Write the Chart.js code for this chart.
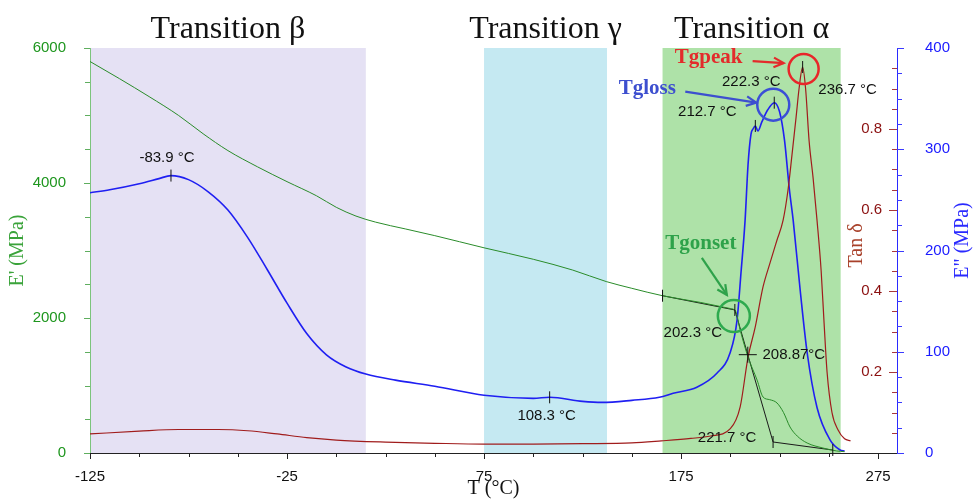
<!DOCTYPE html>
<html>
<head>
<meta charset="utf-8">
<script src="https://cdn.jsdelivr.net/npm/chart.js@4.4.1/dist/chart.umd.min.js"></script>
<style>
  html, body { margin: 0; padding: 0; background: #fff; }
</style>
</head>
<body>
<canvas id="dmaChart" width="973" height="501"></canvas>
<script>
// axis ticks
const xTicks = [-125, -25, 75, 175, 275];
const eTicks = [0, 2000, 4000, 6000];
const tanTicks = [0.2, 0.4, 0.6, 0.8];
const lossTicks = [0, 100, 200, 300, 400];

// temperature ranges of the three transitions (°C)
const bandRanges = [[-125, 15], [75, 137.4], [165.6, 256]];
const bandNames = ['Transition β', 'Transition γ', 'Transition α'];

// E' storage modulus (MPa)
const storageT = [-125, -110, -95, -80, -67.6, -55, -40, -25, -10, 0, 10, 20, 35, 50, 75, 100, 120, 137, 150, 165.6, 185,
  195, 200, 202.7, 205, 209, 213.6, 216.6, 220, 223.7, 227, 230.3, 234, 239, 247, 254, 258];
const storageE = [5800, 5545, 5280, 5000, 4730, 4480, 4240, 4020, 3810, 3640, 3510, 3420, 3320, 3220, 3040, 2870, 2710, 2540, 2440, 2330, 2230,
  2170, 2140, 2100, 1822, 1420, 1080, 830, 790, 741, 600, 385, 250, 148, 74, 30, 20];

// tan delta
const tanT = [-125, -100, -80, -60, -45, -30, -15, 0, 25, 50, 75, 100, 125, 150, 165, 180, 190, 200, 205, 209,
  212.6, 216.6, 220.2, 223.7, 226.8, 229.3, 231.3, 233.4, 234.9, 236.7, 238.2, 240, 242, 244, 246.1, 247.6, 249.1, 251.6, 254.7, 258, 261];
const tanDelta = [0.047, 0.054, 0.058, 0.058, 0.055, 0.047, 0.038, 0.032, 0.027, 0.024, 0.022, 0.022, 0.023, 0.025, 0.03, 0.036, 0.042, 0.06, 0.114, 0.237,
  0.31, 0.41, 0.47, 0.526, 0.575, 0.65, 0.736, 0.83, 0.9, 0.953, 0.9, 0.77, 0.68, 0.575, 0.45, 0.32, 0.2, 0.1, 0.057, 0.035, 0.03];

// E'' loss modulus (MPa)
const lossT = [-125, -115, -100, -90, -83.9, -75, -65, -55, -45, -35, -25, -15, -5, 5, 15, 30, 50, 75, 100, 108.3,
  125, 135, 150, 164, 171, 183, 193.3, 199.9, 203.4, 205.5, 207.5, 209, 210.5, 211.5, 212.7, 214, 216, 219, 222.3, 225,
  227.5, 230, 231.9, 235.5, 239, 244, 250.6, 255.7, 258];
const lossE = [257, 260, 266, 271, 274, 270, 258, 240, 213, 181, 148, 118, 97, 85, 78, 72, 66, 57, 54, 55,
  51, 50, 52, 55, 59, 65, 79, 99, 131, 180, 230, 285, 315, 320, 323, 318, 327, 339, 346, 337,
  309, 260, 230, 160, 99, 45, 13, 3, 2];

// onset construction on E' (tangent lines)
const tangentT = [165.6, 202.3, 221.7, 252];
const tangentE = [2330, 2119, 163, 44];
const crossT = 208.87;

// marked peaks
const lossPeakT = [-83.9, 108.3, 212.7, 222.3];
const lossPeakE = [274, 55, 323, 346];
const tanPeakT = 236.7;
const tanPeakV = 0.953;

const pts = (xs, ys) => xs.map((t, i) => ({x: t, y: ys[i]}));

function seg(ctx, x1, y1, x2, y2) {
  ctx.beginPath(); ctx.moveTo(x1, y1); ctx.lineTo(x2, y2); ctx.stroke();
}
function arrow(ctx, x1, y1, x2, y2, color) {
  const a = Math.atan2(y2 - y1, x2 - x1);
  ctx.strokeStyle = color; ctx.lineWidth = 2.2;
  seg(ctx, x1, y1, x2, y2);
  ctx.beginPath();
  ctx.moveTo(x2 - 11 * Math.cos(a - 0.45), y2 - 11 * Math.sin(a - 0.45));
  ctx.lineTo(x2, y2);
  ctx.lineTo(x2 - 11 * Math.cos(a + 0.45), y2 - 11 * Math.sin(a + 0.45));
  ctx.stroke();
}
function circle(ctx, x, y, r, color) {
  ctx.strokeStyle = color; ctx.lineWidth = 2.5;
  ctx.beginPath(); ctx.arc(x, y, r, 0, Math.PI * 2); ctx.stroke();
}

const bandColors = ['#e5e1f4', '#c5e9f2', '#aee2a8'];

const bandsPlugin = {
  id: 'bands',
  beforeDraw(chart) {
    const {ctx, chartArea: a, scales: {x}} = chart;
    ctx.save();
    bandRanges.forEach((r, i) => {
      const x0 = Math.max(x.getPixelForValue(r[0]), a.left + 1);
      const x1 = x.getPixelForValue(r[1]);
      ctx.fillStyle = bandColors[i];
      ctx.fillRect(x0, a.top, x1 - x0, a.bottom - a.top);
    });
    ctx.restore();
  }
};

const axisDeco = {
  id: 'axisDeco',
  afterDraw(chart) {
    const {ctx, chartArea: a, scales: {x, yE, yT, yL}} = chart;
    ctx.save();
    ctx.lineWidth = 1;
    // minor + major ticks, bottom
    ctx.strokeStyle = '#222';
    for (let v = -125; v <= 275; v += 25) {
      const px = Math.round(x.getPixelForValue(v)) + 0.5;
      seg(ctx, px, a.bottom, px, a.bottom + (xTicks.includes(v) ? 6 : 4));
    }
    // left E'
    ctx.strokeStyle = '#5fae5f';
    for (let v = 0; v <= 6000; v += 500) {
      const py = Math.round(yE.getPixelForValue(v)) + 0.5;
      seg(ctx, a.left - (eTicks.includes(v) ? 6 : 5), py, a.left, py);
    }
    // tan delta, ticks inside
    ctx.strokeStyle = '#a83a3a';
    for (let i = 1; i < 20; i++) {
      const py = Math.round(yT.getPixelForValue(i * 0.05)) + 0.5;
      seg(ctx, a.right - (i % 4 === 0 ? 8 : 5), py, a.right, py);
    }
    ctx.font = '15px "Liberation Sans"';
    ctx.fillStyle = '#8b1010';
    ctx.textAlign = 'right';
    ctx.textBaseline = 'middle';
    tanTicks.forEach(v => ctx.fillText(v.toFixed(1), a.right - 15, yT.getPixelForValue(v)));
    // E'' ticks
    ctx.strokeStyle = '#3a3aff';
    for (let v = 0; v <= 400; v += 25) {
      const py = Math.round(yL.getPixelForValue(v)) + 0.5;
      seg(ctx, a.right, py, a.right + (v % 100 === 0 ? 7 : 5), py);
    }
    // right-side titles, read bottom to top
    const midY = (a.top + a.bottom) / 2;
    ctx.textAlign = 'center';
    ctx.font = '20px "Liberation Serif"';
    ctx.save();
    ctx.translate(a.right - 40, midY - 5);
    ctx.rotate(-Math.PI / 2);
    ctx.fillStyle = '#a8402a';
    ctx.fillText('Tan δ', 0, 0);
    ctx.restore();
    ctx.save();
    ctx.translate(a.right + 66, midY - 10);
    ctx.rotate(-Math.PI / 2);
    ctx.fillStyle = '#2a2aff';
    ctx.fillText('E" (MPa)', 0, 0);
    ctx.restore();
    ctx.restore();
  }
};

const notes = {
  id: 'notes',
  afterDatasetsDraw(chart) {
    const {ctx, chartArea: a, scales: {x, yE, yT, yL}} = chart;
    ctx.save();
    // band titles
    ctx.font = '32px "Liberation Serif"';
    ctx.fillStyle = '#111';
    ctx.textAlign = 'center';
    ctx.textBaseline = 'alphabetic';
    bandRanges.forEach((r, i) => {
      const cx = (Math.max(x.getPixelForValue(r[0]), a.left) + x.getPixelForValue(r[1])) / 2;
      ctx.fillText(bandNames[i], cx, a.top - 10);
    });

    // small marker ticks on curves
    ctx.strokeStyle = '#111';
    ctx.lineWidth = 1;
    const lossPx = lossPeakT.map((t, i) => [x.getPixelForValue(t), yL.getPixelForValue(lossPeakE[i])]);
    lossPx.forEach(p => seg(ctx, p[0], p[1] - 6, p[0], p[1] + 6));
    const tanPx = [x.getPixelForValue(tanPeakT), yT.getPixelForValue(tanPeakV)];
    seg(ctx, tanPx[0], tanPx[1] - 6, tanPx[0], tanPx[1] + 6);
    const tanPts = tangentT.map((t, i) => [x.getPixelForValue(t), yE.getPixelForValue(tangentE[i])]);
    tanPts.forEach(p => seg(ctx, p[0], p[1] - 6, p[0], p[1] + 6));
    const f = (crossT - tangentT[1]) / (tangentT[2] - tangentT[1]);
    const cx = x.getPixelForValue(crossT);
    const cy = yE.getPixelForValue(tangentE[1] + f * (tangentE[2] - tangentE[1]));
    seg(ctx, cx - 9, cy, cx + 9, cy);
    seg(ctx, cx, cy - 8, cx, cy + 8);

    // temperature labels
    ctx.font = '15px "Liberation Sans"';
    ctx.fillStyle = '#111';
    ctx.textBaseline = 'middle';
    const lossOff = [[-4, -18], [-3, 19], [-48, -14], [-23, -21]];
    lossPeakT.forEach((t, i) => {
      ctx.fillText(t.toFixed(1) + ' °C', lossPx[i][0] + lossOff[i][0], lossPx[i][1] + lossOff[i][1]);
    });
    ctx.fillText(tanPeakT.toFixed(1) + ' °C', tanPx[0] + 45, tanPx[1] + 23);
    ctx.fillText(tangentT[1].toFixed(1) + ' °C', tanPts[1][0] - 42, tanPts[1][1] + 23);
    ctx.fillText(crossT.toFixed(2) + '°C', cx + 46, cy);
    ctx.fillText(tangentT[2].toFixed(1) + ' °C', tanPts[2][0] - 46, tanPts[2][1] - 4);

    // highlighted Tg values
    const lossTop = lossPx[3];
    const onset = tanPts[1];
    circle(ctx, tanPx[0] + 1, tanPx[1] + 2, 15, '#e8262a');
    circle(ctx, lossTop[0] - 1, lossTop[1] + 2, 16, '#3b4fd6');
    circle(ctx, onset[0] - 1, onset[1] + 6, 16, '#2eaa4e');

    ctx.font = 'bold 21px "Liberation Serif"';
    ctx.fillStyle = '#e32b2b';
    ctx.fillText('Tgpeak', tanPx[0] - 94, tanPx[1] - 9);
    arrow(ctx, tanPx[0] - 50, tanPx[1] - 6, tanPx[0] - 19, tanPx[1] - 4, '#e32b2b');
    ctx.fillStyle = '#3d4fcf';
    ctx.fillText('Tgloss', lossTop[0] - 127, lossTop[1] - 14);
    arrow(ctx, lossTop[0] - 89, lossTop[1] - 11, lossTop[0] - 18, lossTop[1], '#3d4fcf');
    ctx.fillStyle = '#2ea24a';
    ctx.fillText('Tgonset', onset[0] - 34, onset[1] - 66);
    arrow(ctx, onset[0] - 33, onset[1] - 52, onset[0] - 8, onset[1] - 15, '#2ea24a');
    ctx.restore();
  }
};

const tickFont = {family: 'Liberation Sans', size: 15};
const plainLabel = v => String(v);

new Chart(document.getElementById('dmaChart'), {
  type: 'line',
  data: {
    datasets: [
      {
        label: "E'",
        data: pts(storageT, storageE),
        yAxisID: 'yE',
        borderColor: '#2a8c2a',
        borderWidth: 1,
        cubicInterpolationMode: 'monotone'
      },
      {
        label: 'Tan δ',
        data: pts(tanT, tanDelta),
        yAxisID: 'yT',
        borderColor: '#a01c1c',
        borderWidth: 1.2,
        cubicInterpolationMode: 'monotone'
      },
      {
        label: 'E"',
        data: pts(lossT, lossE),
        yAxisID: 'yL',
        borderColor: '#1f1ff2',
        borderWidth: 1.6,
        cubicInterpolationMode: 'monotone'
      },
      {
        label: 'onset',
        data: pts(tangentT, tangentE),
        yAxisID: 'yE',
        borderColor: '#1a1a1a',
        borderWidth: 1,
        tension: 0
      }
    ]
  },
  options: {
    responsive: false,
    animation: false,
    elements: { point: { radius: 0 } },
    layout: { padding: { top: 48, left: 0, right: 0, bottom: 0 } },
    plugins: { legend: { display: false }, tooltip: { enabled: false } },
    scales: {
      x: {
        type: 'linear',
        min: -125,
        max: 284.6,
        grid: { display: false },
        border: { color: '#222' },
        ticks: { color: '#111', font: tickFont, padding: 7, maxRotation: 0, callback: plainLabel },
        afterBuildTicks: s => { s.ticks = xTicks.map(v => ({value: v})); },
        afterFit: s => { s.height = 48; },
        title: { display: true, text: 'T (°C)', color: '#111', font: {family: 'Liberation Serif', size: 20}, padding: 0 }
      },
      yE: {
        position: 'left',
        min: 0,
        max: 6000,
        grid: { display: false },
        border: { color: '#7cc47c' },
        ticks: { color: '#1e961e', font: tickFont, padding: 16, callback: plainLabel },
        afterBuildTicks: s => { s.ticks = eTicks.map(v => ({value: v})); },
        afterFit: s => { s.width = 90; },
        title: { display: true, text: "E' (MPa)", color: '#3aa33a', font: {family: 'Liberation Serif', size: 20}, padding: {top: 6, bottom: 0} }
      },
      yT: {
        position: 'right',
        min: 0,
        max: 1,
        display: false
      },
      yL: {
        position: 'right',
        min: 0,
        max: 400,
        grid: { display: false },
        border: { color: '#2a2aff' },
        ticks: { color: '#1a1aff', font: tickFont, padding: 20, callback: plainLabel },
        afterBuildTicks: s => { s.ticks = lossTicks.map(v => ({value: v})); },
        afterFit: s => { s.width = 76; }
      }
    }
  },
  plugins: [bandsPlugin, axisDeco, notes]
});
</script>
</body>
</html>
